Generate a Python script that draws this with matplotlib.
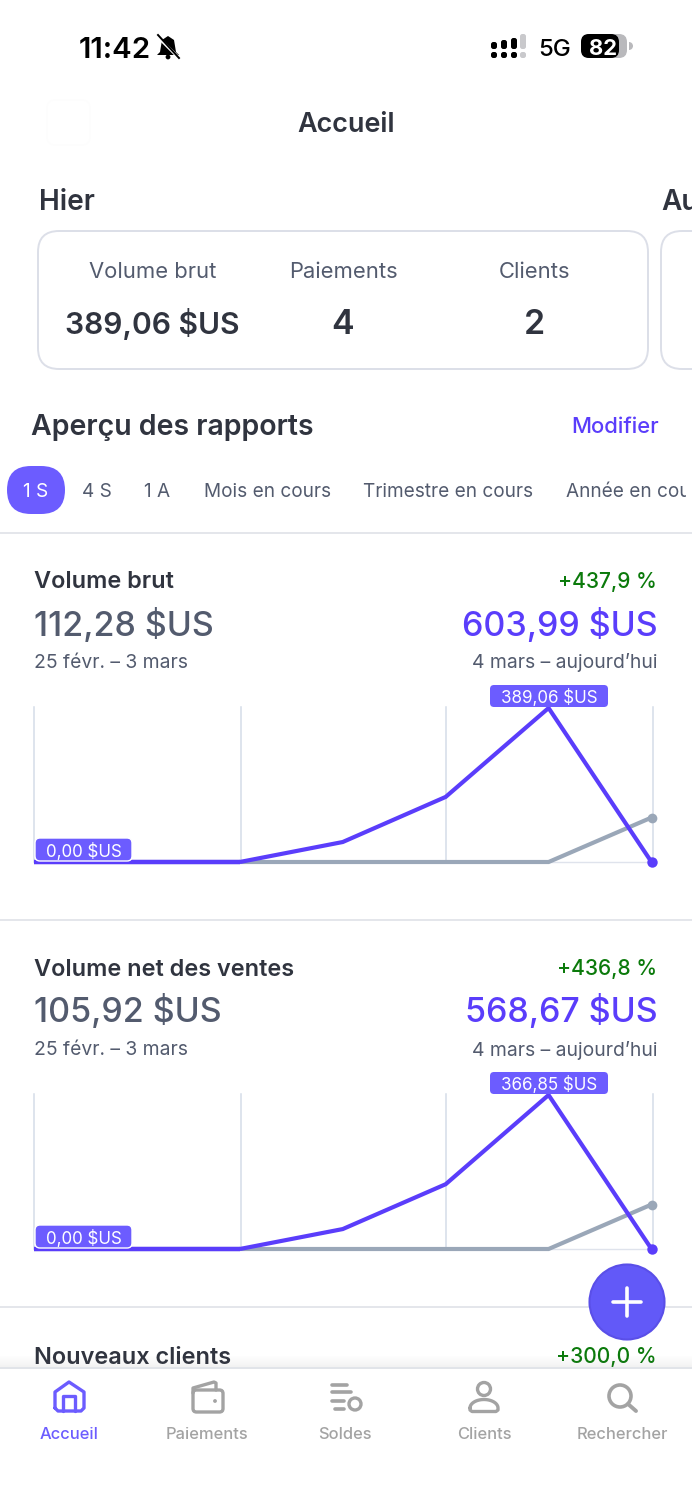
import matplotlib
matplotlib.use('Agg')
import matplotlib.pyplot as plt
from matplotlib.patches import FancyBboxPatch, Circle, Rectangle, Polygon, Wedge
import numpy as np

plt.rcParams['font.family'] = ['Inter', 'DejaVu Sans']

days = list(range(7))
gross_current = [0, 0, 0, 50.50, 164.43, 389.06, 0]
gross_previous = [0, 0, 0, 0, 0, 0, 112.28]
net_current = [0, 0, 0, 47.50, 154.32, 366.85, 0]
net_previous = [0, 0, 0, 0, 0, 0, 105.92]
grid_days = [0, 2, 4, 6]
periods = ['1 S', '4 S', '1 A', 'Mois en cours', 'Trimestre en cours', 'Année en cours']
hier_labels = ['Volume brut', 'Paiements', 'Clients']
hier_values = ['389,06 $US', '4', '2']
tabs = ['Accueil', 'Paiements', 'Soldes', 'Clients', 'Rechercher']

PURPLE = '#5a3dfb'
BADGE = '#6c5cff'
INK = '#30343f'
SLATE = '#535b6e'
GRAY = '#9aa7b8'
LINE = '#dfe3ea'
GREEN = '#0b7a0b'
TABGRAY = '#a3a3a3'

W, H = 692, 1500
fig = plt.figure(figsize=(W / 100, H / 100), dpi=100, facecolor='white')
ui = fig.add_axes([0, 0, 1, 1], zorder=0)
ui.set_xlim(0, W)
ui.set_ylim(H, 0)
ui.axis('off')
top = fig.add_axes([0, 0, 1, 1], zorder=5)
top.set_xlim(0, W)
top.set_ylim(H, 0)
top.axis('off')
top.patch.set_alpha(0)


def T(x, y, s, px, color=INK, weight='normal', ha='left', ax=ui, **kw):
    return ax.text(x, y, s, fontsize=px * 0.72, color=color, fontweight=weight,
                   ha=ha, va='center_baseline', **kw)


def rrect(x0, y0, x1, y1, r, ax=ui, **kw):
    p = FancyBboxPatch((x0 + r, y0 + r), x1 - x0 - 2 * r, y1 - y0 - 2 * r,
                       boxstyle=f'round,pad={r},rounding_size={r}', **kw)
    ax.add_patch(p)
    return p


def hl(y, x0=0, x1=W, color=LINE, lw=1.0, ax=ui):
    ax.plot([x0, x1], [y, y], color=color, lw=lw, solid_capstyle='butt')


# status bar
T(79, 47, '11:42', 29.5, '#000000', 'semibold')
top.add_patch(Polygon([(168, 36), (174, 40), (176, 52), (179, 55), (157, 55), (160, 52), (162, 40)],
                      closed=True, fc='black', ec='none'))
top.add_patch(Circle((168, 57), 2.4, fc='black', ec='none'))
top.plot([157, 180], [36, 59], color='white', lw=2.2)
top.plot([158, 179], [35, 58], color='black', lw=1.4)
for x, h, c in [(494, 42, 'black'), (504, 40, 'black'), (514, 38, 'black'), (523, 34, '#c9c9cc')]:
    rrect(x - 3, h, x + 3, 49, 2.4, fc=c, ec='none')
    rrect(x - 3, 52, x + 3, 58, 2.4, fc=c, ec='none')
T(538, 48, '5G', 24, '#000000', 'medium')
rrect(581, 34, 627, 58, 8, fc='#b9b9bc', ec='none')
rrect(581, 34, 619, 58, 8, fc='black', ec='none')
ui.add_patch(Wedge((629, 46), 4, -90, 90, fc='#b9b9bc', ec='none'))
T(603, 47, '82', 22, 'white', 'bold', ha='center')

# header
rrect(47, 100, 90, 145, 8, fc='white', ec='#fdfdfd', lw=1)
T(346, 122, 'Accueil', 27, INK, 'semibold', ha='center')

# yesterday card
T(39, 200, 'Hier', 28, INK, 'semibold')
T(661.5, 200, 'Au', 28, INK, 'semibold')
rrect(38, 231, 648, 369, 21, fc='white', ec='#dcdfe8', lw=1.4)
rrect(661, 231, 760, 369, 21, fc='white', ec='#dcdfe8', lw=1.4)
for x, lab, val, size in zip([152.5, 343, 534], hier_labels, hier_values, [30, 34, 34]):
    T(x, 270, lab, 22, SLATE, ha='center')
    T(x, 321, val, size, INK, 'semibold', ha='center')

# reports header
T(31, 424.5, 'Aperçu des rapports', 28.5, INK, 'semibold')
T(659, 425, 'Modifier', 22, PURPLE, 'medium', ha='right')
rrect(7, 466, 65, 514, 24, fc=BADGE, ec='none')
clip = Rectangle((0, 460), 686, 60, transform=ui.transData)
for x, lab, col in zip([36, 97, 157, 268, 448, 566], periods,
                       ['white'] + [SLATE] * 5):
    t = T(x, 490, lab, 19, col, ha='left' if x == 566 else 'center')
    if x == 566:
        t.set_clip_on(True)
        t.set_clip_path(clip)
hl(532.5, color='#dfe2e8', lw=1.2)


def panel(y0, title, delta, prev, cur, cur_series, prev_series, peak):
    T(34, y0 + 580, title, 23.5, INK, 'semibold')
    T(657, y0 + 580, delta, 21, GREEN, 'medium', ha='right')
    T(34, y0 + 621.5, prev, 34, SLATE, 'medium')
    T(657.5, y0 + 621.5, cur, 34, PURPLE, 'medium', ha='right')
    T(34, y0 + 661, '25 févr. – 3 mars', 19.3, SLATE)
    T(658, y0 + 661, '4 mars – aujourd’hui', 19.3, SLATE, ha='right')
    base, tip = y0 + 862, y0 + 708
    ax = fig.add_axes([34 / W, 1 - base / H, (651.5 - 34) / W, (base - tip) / H], zorder=2)
    ax.set_xlim(0, 6)
    ax.set_ylim(0, max(cur_series))
    ax.patch.set_alpha(0)
    for s in ax.spines.values():
        s.set_visible(False)
    ax.spines['bottom'].set_visible(True)
    ax.spines['bottom'].set_color('#dfe3ec')
    ax.spines['bottom'].set_linewidth(1)
    ax.spines['bottom'].set_bounds(0, 6.02)
    ax.set_xticks([])
    ax.set_yticks([])
    for d in grid_days:
        ax.axvline(d + (0.012 if d == 6 else 0.01 if d == 2 else 0), color='#d4dce8', lw=1.1,
                   ymax=1.005, clip_on=False, zorder=1)
    ax.plot(days, prev_series, color=GRAY, lw=3, clip_on=False, zorder=3,
            solid_joinstyle='miter', solid_capstyle='butt')
    ax.plot(days[:3], cur_series[:3], color=PURPLE, lw=3.2, clip_on=False, zorder=4, solid_capstyle='butt')
    ax.plot(days[2:], cur_series[2:], color=PURPLE, lw=3, clip_on=False, zorder=4,
            solid_joinstyle='miter', solid_capstyle='butt')
    ax.plot(days[-1], prev_series[-1], 'o', color=GRAY, ms=7, clip_on=False, zorder=5, mec='none')
    ax.plot(days[-1], cur_series[-1], 'o', color=PURPLE, ms=7.5, clip_on=False, zorder=5, mec='none')
    rrect(490, y0 + 685, 608, y0 + 707, 4, ax=top, fc=BADGE, ec='none')
    T(549, y0 + 696, peak, 17, 'white', ha='center', ax=top)
    rrect(35, y0 + 838, 132, y0 + 861, 5, ax=top, fc=BADGE, ec='white', lw=1)
    T(83.5, y0 + 850, '0,00 $US', 17, 'white', ha='center', ax=top)


panel(0, 'Volume brut', '+437,9 %', '112,28 $US', '603,99 $US', gross_current, gross_previous, '389,06 $US')
hl(919.5, color='#dfe2e8', lw=1.2)
panel(387, 'Volume net des ventes', '+436,8 %', '105,92 $US', '568,67 $US', net_current, net_previous, '366,85 $US')
hl(1306.5, color='#dfe2e8', lw=1.2)
T(34, 1355, 'Nouveaux clients', 23.5, INK, 'semibold')
T(657, 1355, '+300,0 %', 21, GREEN, 'medium', ha='right')

# tab bar
grad = np.linspace(0, 0.09, 12).reshape(-1, 1)
top.imshow(np.dstack([np.full((12, 1, 3), 0.45), grad]), extent=(0, W, 1367, 1355), aspect='auto', zorder=1)
top.set_xlim(0, W)
top.set_ylim(H, 0)
top.add_patch(Rectangle((0, 1367), W, 133, fc='white', ec='none', zorder=2))
top.plot([0, W], [1367.5, 1367.5], color='#dcdfe5', lw=1.2, zorder=3)

for x, lab, c in zip([69, 207, 345, 484, 622], tabs, [BADGE] + [TABGRAY] * 4):
    T(x, 1433, lab, 16.5, c, 'medium', ha='center', ax=top, zorder=4)

z = dict(zorder=4, solid_capstyle='round', solid_joinstyle='round')
# home icon
top.plot([55, 55, 69, 84, 84, 81, 58, 55], [1408, 1392, 1382, 1392, 1408, 1411, 1411, 1408], color=BADGE, lw=2.4, **z)
top.plot([63, 63, 75, 75], [1411, 1396, 1396, 1411], color=BADGE, lw=2.4, **z)
# wallet icon
rrect(193, 1390, 223, 1412, 3.5, ax=top, fc='none', ec=TABGRAY, lw=2.4, zorder=4)
top.plot([193, 193, 214, 216, 216], [1393, 1388, 1382, 1383, 1390], color=TABGRAY, lw=2.4, **z)
top.add_patch(Circle((215, 1401), 1.9, fc=TABGRAY, ec='none', zorder=4))
# balances icon
for x0, x1, y in [(332, 347, 1385), (332, 351, 1392), (332, 344, 1401), (335, 344, 1409)]:
    top.plot([x0, x1], [y, y], color=TABGRAY, lw=2.6, **z)
top.add_patch(Circle((355, 1404), 6, fc='none', ec=TABGRAY, lw=2.4, zorder=4))
# person icon
top.add_patch(Circle((484, 1389), 6.5, fc='none', ec=TABGRAY, lw=2.4, zorder=4))
a = np.linspace(np.pi, 0, 30)
top.plot(np.r_[484 + 14 * np.cos(a), 498, 496, 472, 470, 470],
         np.r_[1408 - 8.5 * np.sin(a), 1410, 1411.5, 1411.5, 1410, 1408], color=TABGRAY, lw=2.4, **z)
# search icon
top.add_patch(Circle((620, 1396), 11, fc='none', ec=TABGRAY, lw=2.6, zorder=4))
top.plot([628, 636], [1404, 1411], color=TABGRAY, lw=2.8, **z)

# floating action button
top.add_patch(Circle((627, 1302), 37.5, fc='#6259f8', ec='#5a4fe8', lw=1.5, zorder=6))
top.plot([613, 641], [1302, 1302], color='white', lw=2.6, zorder=7, solid_capstyle='round')
top.plot([627, 627], [1288, 1316], color='white', lw=2.6, zorder=7, solid_capstyle='round')

fig.savefig('out.png', dpi=100, facecolor='white')
